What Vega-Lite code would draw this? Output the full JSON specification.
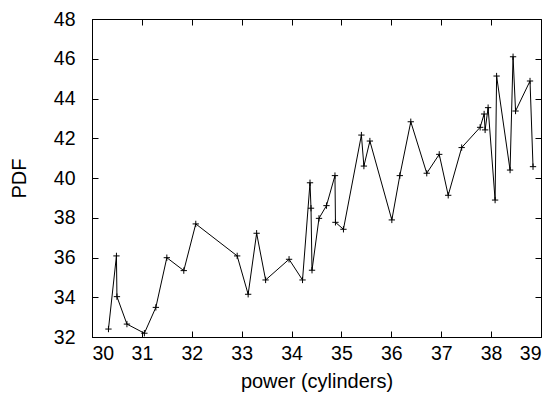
{
  "$schema": "https://vega.github.io/schema/vega-lite/v6.json",
  "autosize": {"type": "none"},
  "padding": {"left": 92, "top": 19, "right": 14, "bottom": 61},
  "width": 449,
  "height": 318,
  "config": {
    "font": "Liberation Sans",
    "view": {"stroke": "black", "strokeWidth": 1},
    "axis": {
      "grid": false,
      "domainColor": "black",
      "tickColor": "black",
      "tickSize": -6,
      "labelColor": "black",
      "titleColor": "black",
      "labelFontSize": 19.5,
      "titleFontSize": 20,
      "titleFontWeight": "normal",
      "labelFont": "Liberation Sans",
      "titleFont": "Liberation Sans"
    }
  },
  "data": {
    "values": [
      {"x": 30.33, "y": 32.40},
      {"x": 30.49, "y": 36.08},
      {"x": 30.50, "y": 34.03},
      {"x": 30.70, "y": 32.65},
      {"x": 31.05, "y": 32.19},
      {"x": 31.28, "y": 33.49},
      {"x": 31.50, "y": 35.99},
      {"x": 31.84, "y": 35.34},
      {"x": 32.08, "y": 37.69},
      {"x": 32.91, "y": 36.08},
      {"x": 33.13, "y": 34.15},
      {"x": 33.30, "y": 37.22},
      {"x": 33.48, "y": 34.87},
      {"x": 33.95, "y": 35.91},
      {"x": 34.22, "y": 34.87},
      {"x": 34.37, "y": 39.76},
      {"x": 34.39, "y": 38.48},
      {"x": 34.41, "y": 35.36},
      {"x": 34.55, "y": 37.97},
      {"x": 34.70, "y": 38.61},
      {"x": 34.87, "y": 40.12},
      {"x": 34.88, "y": 37.77},
      {"x": 35.04, "y": 37.42},
      {"x": 35.40, "y": 42.16},
      {"x": 35.45, "y": 40.60},
      {"x": 35.57, "y": 41.86},
      {"x": 36.01, "y": 37.89},
      {"x": 36.17, "y": 40.12},
      {"x": 36.39, "y": 42.83},
      {"x": 36.71, "y": 40.24},
      {"x": 36.96, "y": 41.19},
      {"x": 37.14, "y": 39.13},
      {"x": 37.41, "y": 41.53},
      {"x": 37.78, "y": 42.55},
      {"x": 37.86, "y": 43.22},
      {"x": 37.88, "y": 42.42},
      {"x": 37.94, "y": 43.54},
      {"x": 38.08, "y": 38.89},
      {"x": 38.11, "y": 45.13},
      {"x": 38.38, "y": 40.40},
      {"x": 38.44, "y": 46.10},
      {"x": 38.49, "y": 43.37},
      {"x": 38.78, "y": 44.88},
      {"x": 38.84, "y": 40.57}
    ]
  },
  "layer": [
    {
      "mark": {"type": "line", "color": "black", "strokeWidth": 1},
      "encoding": {
        "x": {"field": "x", "type": "quantitative", "scale": {"domain": [30, 39], "nice": false, "zero": false},
              "axis": {"title": "power (cylinders)", "values": [30,31,32,33,34,35,36,37,38,39], "labelPadding": 13, "titlePadding": 9}},
        "y": {"field": "y", "type": "quantitative", "scale": {"domain": [32, 48], "nice": false, "zero": false},
              "axis": {"title": "PDF", "values": [32,34,36,38,40,42,44,46,48], "labelPadding": 23, "titlePadding": 24}}
      }
    },
    {
      "mark": {"type": "point", "shape": "M-1,0L1,0M0,-1L0,1", "stroke": "black", "strokeWidth": 1, "size": 40, "filled": false, "opacity": 1},
      "encoding": {
        "x": {"field": "x", "type": "quantitative",
              "axis": {"orient": "top", "labels": false, "title": null, "domain": false, "values": [30,31,32,33,34,35,36,37,38,39]}},
        "y": {"field": "y", "type": "quantitative",
              "axis": {"orient": "right", "labels": false, "title": null, "domain": false, "values": [32,34,36,38,40,42,44,46,48]}}
      }
    }
  ],
  "resolve": {"axis": {"x": "independent", "y": "independent"}}
}
